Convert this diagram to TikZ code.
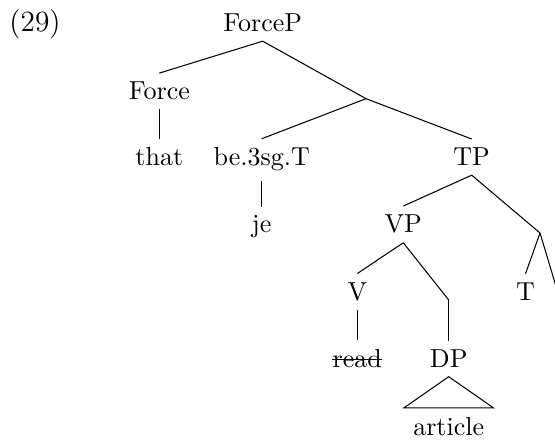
\documentclass[tikz,border=0pt]{standalone}
\usetikzlibrary{positioning}

\begin{document}
\begin{tikzpicture}[x=0.3846pt,y=-0.3846pt,word/.style={anchor=base}]
  \useasboundingbox (0,0) rectangle (555,441);
  \clip (0,0) rectangle (555,441);

  \node[word,font=\fontsize{11.3}{13}\selectfont] (ex) at (35,31.7) {(29)};
  \node[word] (forcep) at (262.7,31.7) {ForceP};
  \node[word] (force) at (159.3,100) {Force};
  \coordinate (bar1) at (366,98.7);
  \node[word] (that) at (159.3,166) {that};
  \node[word] (be) at (261.7,166) {be.3sg.T};
  \node[word] (tp) at (471.7,166) {TP};
  \node[word] (je) at (261.7,233) {je};
  \node[word] (vp) at (403.3,233) {VP};
  \coordinate (bar2) at (540,233);
  \node[word] (v) at (357.3,300.5) {V};
  \coordinate (bar3) at (448.7,300);
  \node[word] (t) at (525.5,300.5) {T};
  \coordinate (offedge) at (561,303);
  \node[word] (read) at (357.3,367.5) {read};
  \node[word] (dp) at (448.7,367.5) {DP};
  \node[word] (article) at (448.7,435) {article};

  \draw[-] (forcep.south) -- (force.north);
  \draw[-] (forcep.south) -- (bar1);
  \draw[-] (force.south) -- (that.north);
  \draw[-] (bar1) -- (be.north);
  \draw[-] (bar1) -- (tp.north);
  \draw[-] (be.south) -- (je.north);
  \draw[-] (tp.south) -- (vp.north);
  \draw[-] (tp.south) -- (bar2);
  \draw[-] (bar2) -- (t.north);
  \draw[-] (bar2) -- (offedge);
  \draw[-] (vp.south) -- (v.north);
  \draw[-] (vp.south) -- (bar3);
  \draw[-] (bar3) -- (dp.north);
  \draw[-] (v.south) -- (read.north);
  \draw[-] (dp.south) -- (article.north west) -- (article.north east) -- cycle;
  \draw[-] ([xshift=3.33pt,yshift=2.9pt]read.base west) -- ([xshift=-3.33pt,yshift=2.9pt]read.base east);
\end{tikzpicture}
\end{document}
